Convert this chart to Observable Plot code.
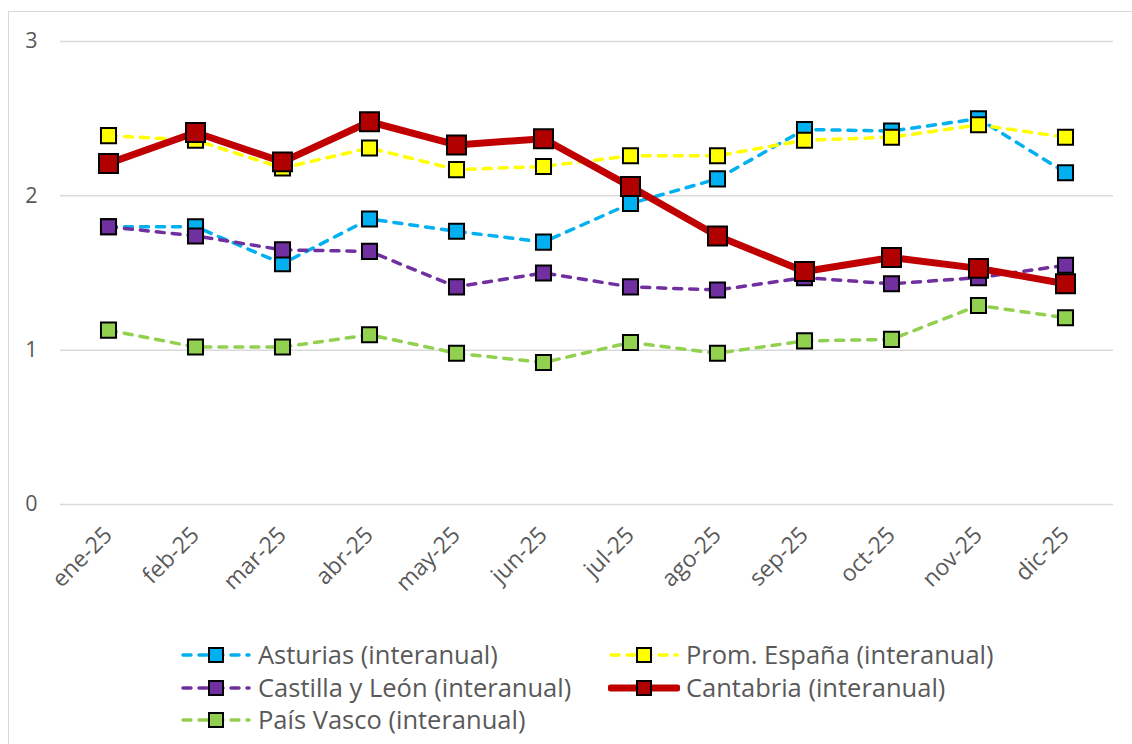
<!DOCTYPE html>
<html><head><meta charset="utf-8">
<script src="https://cdn.jsdelivr.net/npm/d3@7"></script>
<script src="https://cdn.jsdelivr.net/npm/@observablehq/plot@0.6"></script>
<style>
body{margin:0;background:#fff;width:1132px;height:744px;overflow:hidden;position:relative;font-family:"Open Sans",sans-serif;}
#frame{position:absolute;left:8px;top:11px;width:1140px;height:760px;border:1px solid #d9d9d9;box-sizing:border-box;}
#chart{position:absolute;left:0;top:0;}
.item{position:absolute;height:40px;display:flex;align-items:center;white-space:nowrap;font-size:25.5px;color:#595959;line-height:1;}
.item svg{margin-right:6px;}
</style>
</head><body>
<div id="frame"></div>
<div id="chart"></div>
<div id="legend"></div>
<script>
const months = ["ene-25","feb-25","mar-25","abr-25","may-25","jun-25","jul-25","ago-25","sep-25","oct-25","nov-25","dic-25"];
const asturias   = [1.80,1.80,1.56,1.85,1.77,1.70,1.95,2.11,2.43,2.42,2.50,2.15];
const promEspana = [2.39,2.36,2.18,2.31,2.17,2.19,2.26,2.26,2.36,2.38,2.46,2.38];
const castilla   = [1.80,1.74,1.65,1.64,1.41,1.50,1.41,1.39,1.47,1.43,1.47,1.55];
const cantabria  = [2.21,2.41,2.22,2.48,2.33,2.37,2.06,1.74,1.51,1.60,1.53,1.43];
const paisVasco  = [1.13,1.02,1.02,1.10,0.98,0.92,1.05,0.98,1.06,1.07,1.29,1.21];
const yTicks = [0,1,2,3];

const series = [
  {name:"Asturias (interanual)", values:asturias, color:"#00B0F0", marker:"#00B0F0", width:3.5, dash:"8,8", r:8.5},
  {name:"Prom. España (interanual)", values:promEspana, color:"#FFFF00", marker:"#FFFF00", width:3.5, dash:"8,8", r:8.5},
  {name:"Castilla y León (interanual)", values:castilla, color:"#7030A0", marker:"#7030A0", width:3.5, dash:"8,8", r:8.5},
  {name:"Cantabria (interanual)", values:cantabria, color:"#C00000", marker:"#B00000", width:7, dash:null, r:10.7},
  {name:"País Vasco (interanual)", values:paisVasco, color:"#92D050", marker:"#92D050", width:3.5, dash:"8,8", r:8.5}
];

const marks = [
  Plot.ruleY(yTicks, {stroke:"#d9d9d9", strokeWidth:1.5}),
  Plot.text(yTicks, {y:d=>d, frameAnchor:"left", dx:-23, textAnchor:"end", fontSize:21.5, fill:"#595959"}),
  Plot.text(months, {x:d=>d, frameAnchor:"bottom", rotate:-45, textAnchor:"end", lineAnchor:"bottom", dx:5, dy:32, fontSize:23, fill:"#595959"})
];
for (const s of series) {
  const data = months.map((m,i)=>({month:m, value:s.values[i]}));
  marks.push(Plot.line(data, {x:"month", y:"value", stroke:s.color, strokeWidth:s.width, strokeDasharray:s.dash, strokeLinecap:"round", strokeLinejoin:"round"}));
  marks.push(Plot.dot(data, {x:"month", y:"value", symbol:"square", r:s.r, fill:s.marker, stroke:"#000", strokeWidth:2}));
}

const chart = Plot.plot({
  width:1132, height:620,
  marginTop:41, marginBottom:116, marginLeft:60, marginRight:19,
  x:{type:"point", domain:months, padding:0.5, axis:null},
  y:{domain:[0,3], axis:null},
  style:{fontFamily:"'Open Sans', sans-serif", background:"transparent", overflow:"visible"},
  marks
});
document.getElementById("chart").appendChild(chart);

// Legend
const legendPos = [
  {s:0, left:180, cy:655},
  {s:2, left:180, cy:688},
  {s:4, left:180, cy:720},
  {s:1, left:608, cy:655},
  {s:3, left:608, cy:688}
];
const legend = document.getElementById("legend");
for (const p of legendPos) {
  const s = series[p.s];
  const div = document.createElement("div");
  div.className = "item";
  div.style.left = p.left + "px";
  div.style.top = (p.cy - 20) + "px";
  const dash = s.dash ? `stroke-dasharray="${s.dash}"` : "";
  div.innerHTML = `<svg width="72" height="20"><line x1="3" x2="69" y1="10" y2="10" stroke="${s.color}" stroke-width="${s.width}" ${dash} stroke-linecap="round"/><rect x="29" y="3" width="14" height="14" fill="${s.marker}" stroke="#000" stroke-width="2"/></svg><span>${s.name}</span>`;
  legend.appendChild(div);
}
</script>
</body></html>
